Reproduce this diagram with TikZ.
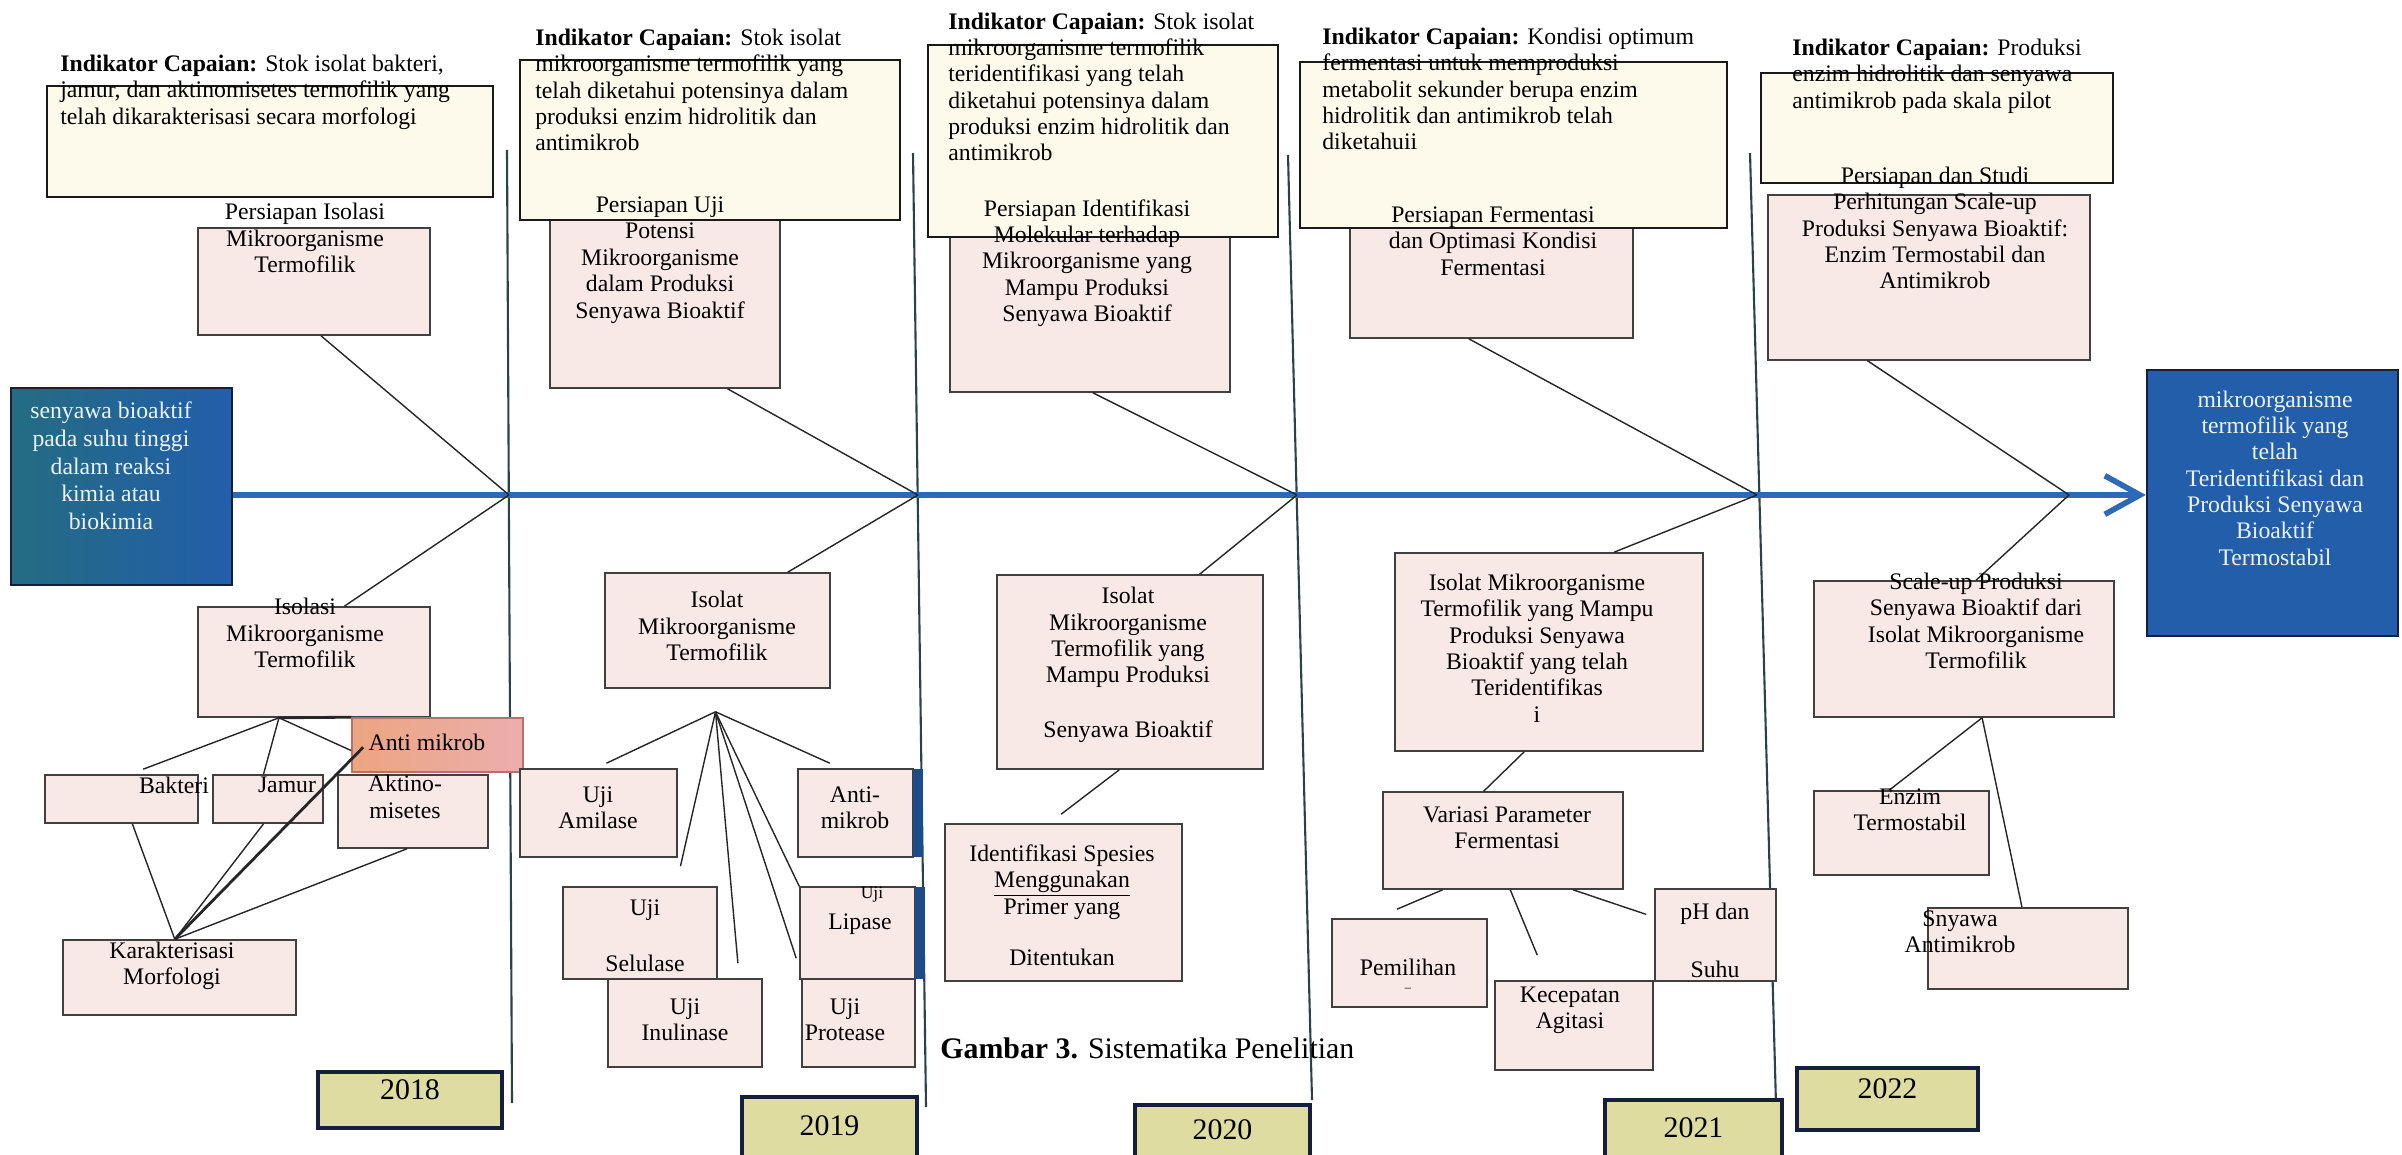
\documentclass[tikz,border=0pt]{standalone}
\usepackage{fontspec}
\setmainfont{Liberation Serif}
\usetikzlibrary{arrows.meta,calc,fit}

\definecolor{spineblue}{RGB}{45,105,182}
\definecolor{deepblue}{RGB}{34,94,170}
\definecolor{tealblue}{RGB}{36,108,130}
\definecolor{boxpink}{RGB}{248,232,230}
\definecolor{iccream}{RGB}{253,250,236}
\definecolor{khaki}{RGB}{222,220,160}
\definecolor{navy}{RGB}{22,30,62}
\definecolor{dividergray}{RGB}{44,66,72}
\definecolor{salmon}{RGB}{236,165,128}
\definecolor{rosered}{RGB}{226,140,140}
\definecolor{paletext}{RGB}{236,242,248}

\begin{document}
\begin{tikzpicture}[%
    x=0.02cm, y=-0.02cm,
    >={Straight Barb[length=20pt,width=22pt]},
    font=\fontsize{13.5}{15}\selectfont,
    box/.style={draw=black!75, line width=0.9pt, fill=boxpink, inner sep=0pt},
    icbox/.style={box, draw=black!90, line width=1.1pt, fill=iccream},
    antibox/.style={box, draw=rosered!80!black, left color=salmon, middle color=boxpink, right color=rosered!70},
    bluebox/.style={draw=navy, line width=1.4pt, fill=deepblue, inner sep=0pt},
    yearbox/.style={draw=navy, line width=2.2pt, fill=khaki, inner sep=0pt, font=\fontsize{17}{19}\selectfont},
    txt/.style={align=center, inner sep=0pt},
    ictxt/.style={align=left, anchor=west, inner sep=0pt},
    wtxt/.style={txt, text=paletext},
    link/.style={draw=black!85, line width=0.8pt},
    thicklink/.style={link, line width=1.6pt},
    divider/.style={draw=dividergray, line width=1.2pt},
    spine/.style={draw=spineblue, line width=3.2pt}
  ]
  \useasboundingbox (0,0) rectangle (2402,1155);

  % year dividers
  \draw[divider] (507,150) -- (512,1103);
  \draw[divider] (913,153) -- (926,1107);
  \draw[divider] (1288,155) -- (1312,1100);
  \draw[divider] (1750,153) -- (1776,1105);

  % junctions on the spine
  \coordinate (j18) at (509,495);
  \coordinate (j19) at (918,495);
  \coordinate (j20) at (1297,495);
  \coordinate (j21) at (1757,495);
  \coordinate (j22) at (2069,495);

  % start and goal
  \node[bluebox, fit={(11,388) (232,585)}, left color=tealblue, right color=deepblue] (goal) {};
  \node[bluebox, fit={(2147,370) (2398,636)}] (result) {};
  \draw[spine, ->] (goal.east |- j18) -- (result.west |- j18);

  % persiapan boxes (top)
  \node[box, fit={(198,228) (430,335)}] (prep18) {};
  \node[box, fit={(550,215) (780,388)}] (prep19) {};
  \node[box, fit={(950,230) (1230,392)}] (prep20) {};
  \node[box, fit={(1350,220) (1633,338)}] (prep21) {};
  \node[box, fit={(1768,195) (2090,360)}] (prep22) {};

  % indikator capaian boxes
  \node[icbox, fit={(47,86) (493,197)}] (ic18) {};
  \node[icbox, fit={(520,60) (900,220)}] (ic19) {};
  \node[icbox, fit={(928,45) (1278,237)}] (ic20) {};
  \node[icbox, fit={(1300,62) (1727,228)}] (ic21) {};
  \node[icbox, fit={(1761,73) (2113,183)}] (ic22) {};

  % 2018 bottom
  \node[box, fit={(198,607) (430,717)}] (iso18) {};
  \node[antibox, fit={(352,718) (523,772)}] (anti18) {};
  \node[box, fit={(45,775) (198,823)}] (bak) {};
  \node[box, fit={(213,775) (323,823)}] (jam) {};
  \node[box, fit={(338,775) (488,848)}] (akt) {};
  \node[box, fit={(63,940) (296,1015)}] (kar) {};

  % 2019 bottom
  \node[box, fit={(605,573) (830,688)}] (iso19) {};
  \node[box, fit={(520,769) (677,857)}] (amil) {};
  \node[box, fit={(798,769) (913,857)}] (anti19) {};
  \node[box, fit={(563,887) (717,979)}] (selu) {};
  \node[box, fit={(608,979) (762,1067)}] (inul) {};
  \node[box, fit={(800,887) (915,979)}] (lipa) {};
  \node[box, fit={(802,979) (915,1067)}] (prot) {};
  \fill[deepblue!80!black] (913,769) rectangle (923,857);
  \fill[deepblue!80!black] (915,887) rectangle (925,979);

  % 2020 bottom
  \node[box, fit={(997,575) (1263,769)}] (iso20) {};
  \node[box, fit={(945,824) (1182,981)}] (idsp) {};

  % 2021 bottom
  \node[box, fit={(1395,553) (1703,751)}] (iso21) {};
  \node[box, fit={(1383,792) (1623,889)}] (vari) {};
  \node[box, fit={(1332,919) (1487,1007)}] (pemi) {};
  \node[box, fit={(1495,981) (1653,1070)}] (kece) {};
  \node[box, fit={(1655,889) (1776,981)}] (phsu) {};

  % 2022 bottom
  \node[box, fit={(1814,581) (2114,717)}] (scal22) {};
  \node[box, fit={(1814,791) (1989,875)}] (enzi) {};
  \node[box, fit={(1928,908) (2128,989)}] (snya) {};

  % years
  \node[yearbox, fit={(318,1072) (502,1128)}] (y18) {2018};
  \node[yearbox, fit={(742,1097) (917,1175)}] (y19) {2019};
  \node[yearbox, fit={(1135,1105) (1310,1175)}] (y20) {2020};
  \node[yearbox, fit={(1605,1100) (1782,1175)}] (y21) {2021};
  \node[yearbox, fit={(1797,1068) (1978,1130)}] (y22) {2022};

  % bones to the spine
  \draw[link] ($(prep18.south west)!0.53!(prep18.south east)$) -- (j18);
  \draw[link] ($(prep19.south west)!0.77!(prep19.south east)$) -- (j19);
  \draw[link] ($(prep20.south west)!0.51!(prep20.south east)$) -- (j20);
  \draw[link] ($(prep21.south west)!0.42!(prep21.south east)$) -- (j21);
  \draw[link] ($(prep22.south west)!0.31!(prep22.south east)$) -- (j22);
  \draw[link] (j18) -- ($(iso18.north west)!0.63!(iso18.north east)$);
  \draw[link] (j19) -- ($(iso19.north west)!0.81!(iso19.north east)$);
  \draw[link] (j20) -- ($(iso20.north west)!0.76!(iso20.north east)$);
  \draw[link] (j21) -- ($(iso21.north west)!0.71!(iso21.north east)$);
  \draw[link] (j22) -- ($(scal22.north west)!0.54!(scal22.north east)$);

  % 2018 branches
  \coordinate (f18) at ($(iso18.south west)!0.35!(iso18.south east)$);
  \coordinate (k18) at ($(kar.north west)!0.48!(kar.north east)$);
  \draw[link] (f18) -- ($(bak.north west)!0.64!(bak.north east)+(0,-5)$);
  \draw[link] (f18) -- ($(jam.north west)!0.46!(jam.north east)$);
  \draw[thicklink] (f18) -- (anti18.north west);
  \draw[link] (f18) -- ($(anti18.north west)!0.6!(anti18.south west)$);
  \draw[thicklink] ($(anti18.north west)!0.54!(anti18.south west)+(12,0)$) -- (k18);
  \draw[link] ($(bak.south west)!0.57!(bak.south east)$) -- (k18);
  \draw[link] ($(jam.south west)!0.46!(jam.south east)$) -- (k18);
  \draw[link] ($(akt.south west)!0.46!(akt.south east)$) -- (k18);

  % 2019 branches
  \coordinate (f19) at ($(iso19.south)+(-2,23)$);
  \draw[link] (f19) -- ($(amil.north west)!0.55!(amil.north east)+(0,-5)$);
  \draw[link] (f19) -- ($(selu.north west)!0.76!(selu.north east)+(0,-20)$);
  \draw[link] (f19) -- ($(inul.north west)!0.84!(inul.north east)+(0,-15)$);
  \draw[link] (f19) -- (lipa.north west);
  \draw[link] (f19) -- ($(lipa.north west)!0.77!(lipa.south west)+(-3,0)$);
  \draw[link] (f19) -- ($(anti19.north west)!0.28!(anti19.north east)+(0,-5)$);

  % 2020 branch
  \draw[link] ($(iso20.south west)!0.46!(iso20.south east)$) -- ($(idsp.north west)!0.49!(idsp.north east)+(0,-9)$);

  % 2021 branches
  \draw[link] ($(iso21.south west)!0.42!(iso21.south east)$) -- ($(vari.north west)!0.42!(vari.north east)$);
  \draw[link] ($(vari.south west)!0.25!(vari.south east)$) -- ($(pemi.north west)!0.42!(pemi.north east)+(0,-9)$);
  \draw[link] ($(vari.south west)!0.53!(vari.south east)$) -- ($(kece.north west)!0.27!(kece.north east)+(0,-25)$);
  \draw[link] ($(vari.south west)!0.79!(vari.south east)$) -- ($(phsu.north west)!0.28!(phsu.south west)+(-8,0)$);

  % 2022 branches
  \coordinate (s22) at ($(scal22.south west)!0.56!(scal22.south east)$);
  \draw[link] (s22) -- ($(enzi.north west)!0.43!(enzi.north east)$);
  \draw[link] (s22) -- ($(snya.north west)!0.47!(snya.north east)$);

  % texts: indikator capaian
  \node[ictxt] (ic18t) at (60,92) {\textbf{Indikator Capaian:} Stok isolat bakteri,\\jamur, dan aktinomisetes termofilik yang\\telah dikarakterisasi secara morfologi};
  \node[ictxt] (ic19t) at (535,90) {\textbf{Indikator Capaian:} Stok isolat\\mikroorganisme termofilik yang\\telah diketahui potensinya dalam\\produksi enzim hidrolitik dan\\antimikrob};
  \node[ictxt] (ic20t) at (948,87) {\textbf{Indikator Capaian:} Stok isolat\\mikroorganisme termofilik\\teridentifikasi yang telah\\diketahui potensinya dalam\\produksi enzim hidrolitik dan\\antimikrob};
  \node[ictxt] (ic21t) at (1322,89) {\textbf{Indikator Capaian:} Kondisi optimum\\fermentasi untuk memproduksi\\metabolit sekunder berupa enzim\\hidrolitik dan antimikrob telah\\diketahuii};
  \node[ictxt] (ic22t) at (1792,76) {\textbf{Indikator Capaian:} Produksi\\enzim hidrolitik dan senyawa\\antimikrob pada skala pilot};

  % texts: persiapan
  \node[txt] (prep18t) at (305,238) {Persiapan Isolasi\\Mikroorganisme\\Termofilik};
  \node[txt] (prep19t) at (660,260) {Persiapan Uji\\Potensi\\Mikroorganisme\\dalam Produksi\\Senyawa Bioaktif};
  \node[txt] (prep20t) at (1087,263) {Persiapan Identifikasi\\Molekular terhadap\\Mikroorganisme yang\\Mampu Produksi\\Senyawa Bioaktif};
  \node[txt] (prep21t) at (1493,241) {Persiapan Fermentasi\\dan Optimasi Kondisi\\Fermentasi};
  \node[txt] (prep22t) at (1935,228) {Persiapan dan Studi\\Perhitungan Scale-up\\Produksi Senyawa Bioaktif:\\Enzim Termostabil dan\\Antimikrob};

  % texts: start and goal
  \node[wtxt, font=\fontsize{13.5}{15.8}\selectfont] (goalt) at (111,466) {senyawa bioaktif\\pada suhu tinggi\\dalam reaksi\\kimia atau\\biokimia};
  \node[wtxt] (resultt) at (2275,478) {mikroorganisme\\termofilik yang\\telah\\Teridentifikasi dan\\Produksi Senyawa\\Bioaktif\\Termostabil};

  % texts: 2018
  \node[txt] (iso18t) at (305,633) {Isolasi\\Mikroorganisme\\Termofilik};
  \node[txt] (anti18t) at (427,742) {Anti mikrob};
  \node[txt] (bakt) at (174,785) {Bakteri};
  \node[txt] (jamt) at (287,785) {Jamur};
  \node[txt] (aktt) at (405,797) {Aktino-\\misetes};
  \node[txt] (kart) at (172,966) {Karakterisasi\\Morfologi};

  % texts: 2019
  \node[txt] (iso19t) at (717,626) {Isolat\\Mikroorganisme\\Termofilik};
  \node[txt] (amilt) at (598,808) {Uji\\Amilase};
  \node[txt] (anti19t) at (855,808) {Anti-\\mikrob};
  \node[txt] (selut) at (645,936) {Uji\\[17pt]Selulase};
  \node[txt] (inult) at (685,1020) {Uji\\Inulinase};
  \node[txt, font=\fontsize{10}{11}\selectfont] (lipau) at (872,895) {Uji};
  \node[txt] (lipat) at (860,924) {Lipase};
  \node[txt] (prott) at (845,1020) {Uji\\Protease};

  % texts: 2020
  \node[txt] (iso20t) at (1128,665) {Isolat\\Mikroorganisme\\Termofilik yang\\Mampu Produksi\\[16pt]Senyawa Bioaktif};
  \node[txt] (idspt) at (1062,905) {Identifikasi Spesies\\\underline{Menggunakan}\\Primer yang\\[14pt]Ditentukan};

  % texts: 2021
  \node[txt] (iso21t) at (1537,648) {Isolat Mikroorganisme\\Termofilik yang Mampu\\Produksi Senyawa\\Bioaktif yang telah\\Teridentifikas\\i};
  \node[txt] (varit) at (1507,828) {Variasi Parameter\\Fermentasi};
  \node[txt] (pemit) at (1408,975) {Pemilihan\\[-6pt]{\scriptsize --}};
  \node[txt] (kecet) at (1570,1010) {Kecepatan\\Agitasi};
  \node[txt] (phsut) at (1715,940) {pH dan\\[18pt]Suhu};

  % texts: 2022
  \node[txt] (scal22t) at (1976,621) {Scale-up Produksi\\Senyawa Bioaktif dari\\Isolat Mikroorganisme\\Termofilik};
  \node[txt] (enzit) at (1910,810) {Enzim\\Termostabil};
  \node[txt] (snyat) at (1960,932) {Snyawa\\Antimikrob};

  % caption
  \node[anchor=west, inner sep=0pt, font=\fontsize{17}{19}\selectfont] (capt) at (940,1048) {\textbf{Gambar 3.} Sistematika Penelitian};
\end{tikzpicture}
\end{document}
